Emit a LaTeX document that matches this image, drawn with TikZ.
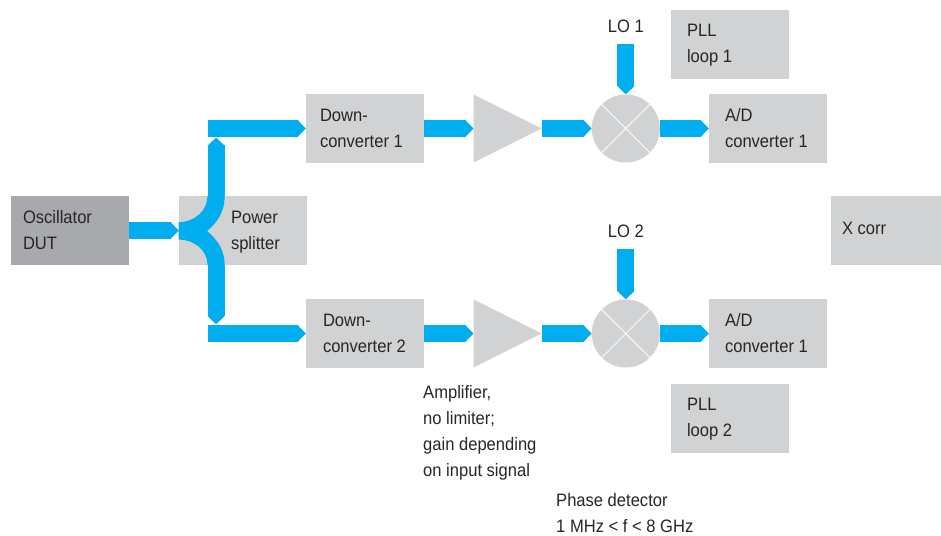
\documentclass[tikz,border=0pt]{standalone}
\usepackage{fontspec}
\setmainfont[FakeStretch=0.92]{Liberation Sans}
\usetikzlibrary{arrows.meta, positioning, shapes.geometric}
\definecolor{sigblue}{HTML}{00AEEF}
\definecolor{boxgray}{HTML}{D1D2D4}
\definecolor{dutgray}{HTML}{A7A9AC}
\tikzset{
  box/.style={fill=boxgray, minimum width=118pt, minimum height=69pt, inner sep=0pt},
  lbl/.style={align=left, inner sep=0pt, font=\fontsize{18}{26}\selectfont, text=black!85},
  sig/.style={draw=sigblue, line width=17pt, -{Triangle[length=8.5pt,width=17pt,color=sigblue]}},
  amp/.style={shape=isosceles triangle, isosceles triangle stretches, fill=boxgray, anchor=west,
    minimum width=68pt, minimum height=68pt, inner sep=0pt},
  mixer/.style={circle, fill=boxgray, minimum size=68pt, inner sep=0pt},
}
\begin{document}
\begin{tikzpicture}[x=1pt, y=-1pt]
      \useasboundingbox (0, 0) rectangle (941, 535);

      \node[box, fill=dutgray] (dut) at (70, 230.5) {};
      \node[box, minimum width=128pt] (split) at (243, 230.5) {};
      \node[box] (down1) at (365, 128.5) {};
      \node[box] (down2) at (365, 333.5) {};
      \node[amp] (amp1) at (473.5, 128.5) {};
      \node[amp] (amp2) at (473.5, 333.5) {};
      \node[mixer] (mix1) at (625.8, 128.5) {};
      \node[mixer] (mix2) at (625.8, 333.5) {};
      \node[box] (adc1) at (768, 128.5) {};
      \node[box] (adc2) at (768, 333.5) {};
      \node[box] (pll1) at (730, 44.5) {};
      \node[box] (pll2) at (730, 418) {};
      \node[box, minimum width=110pt] (xcorr) at (886, 230.5) {};

      \draw[white, thick] (mix1.45) -- (mix1.225) (mix1.135) -- (mix1.315);
      \draw[white, thick] (mix2.45) -- (mix2.225) (mix2.135) -- (mix2.315);

      \node[lbl, right=12pt of dut.west] (dutlbl) {Oscillator\\DUT};
      \node[lbl, right=52pt of split.west, yshift=-1.5pt] (splitlbl) {Power\\splitter};
      \node[lbl, right=14pt of down1.west] (down1lbl) {Down-\\converter 1};
      \node[lbl, right=17pt of down2.west] (down2lbl) {Down-\\converter 2};
      \node[lbl, right=16pt of adc1.west] (adc1lbl) {A/D\\converter 1};
      \node[lbl, right=16pt of adc2.west] (adc2lbl) {A/D\\converter 1};
      \node[lbl, right=16pt of pll1.west, yshift=-1pt] (pll1lbl) {PLL\\loop 1};
      \node[lbl, right=16pt of pll2.west, yshift=-1pt] (pll2lbl) {PLL\\loop 2};
      \node[lbl, right=11pt of xcorr.west, yshift=2pt] (xcorrlbl) {X corr};
      \node[lbl] (lo1lbl) at (625.8, 26) {LO 1};
      \node[lbl] (lo2lbl) at (625.8, 231) {LO 2};
      \node[lbl, anchor=north west] (amplbl) at (423, 385) {Amplifier,\\no limiter;\\gain depending\\on input signal};
      \node[lbl, anchor=north west] (detlbl) at (556, 493) {Phase detector\\1 MHz < f < 8 GHz};

      \coordinate (up1) at (207.5, 128.5);
      \coordinate (up2) at (207.5, 333.5);
      \coordinate (vup) at (216.1, 196);
      \coordinate (vdown) at (216.1, 265);
      \coordinate (upend) at (216.1, 137.5);
      \coordinate (downend) at (216.1, 324.3);
      \coordinate (lo1) at (625.8, 44);
      \coordinate (lo2) at (625.8, 249);

      \fill[sigblue] (207.5, 196) .. controls (207.5, 211) and (194, 222.3) .. (178.5, 222.3)
        -- (178.5, 239.5) .. controls (194, 239.5) and (207.5, 250) .. (207.5, 265)
        -- (224.7, 265) .. controls (224.7, 251) and (218, 240) .. (207, 231)
        .. controls (218, 222) and (224.7, 211) .. (224.7, 196) -- cycle;

      \draw[sig] (dut.east) -- (split.west);
      \draw[sig] (vup) -- (upend);
      \draw[sig] (vdown) -- (downend);
      \draw[sig] (up1) -- (down1.west);
      \draw[sig] (up2) -- (down2.west);
      \draw[sig] (down1.east) -- (amp1.west);
      \draw[sig] (down2.east) -- (amp2.west);
      \draw[sig] (amp1.east) -- (mix1.west);
      \draw[sig] (amp2.east) -- (mix2.west);
      \draw[sig] (mix1.east) -- (adc1.west);
      \draw[sig] (mix2.east) -- (adc2.west);
      \draw[sig] (lo1) -- (mix1.north);
      \draw[sig] (lo2) -- (mix2.north);
\end{tikzpicture}
\end{document}
